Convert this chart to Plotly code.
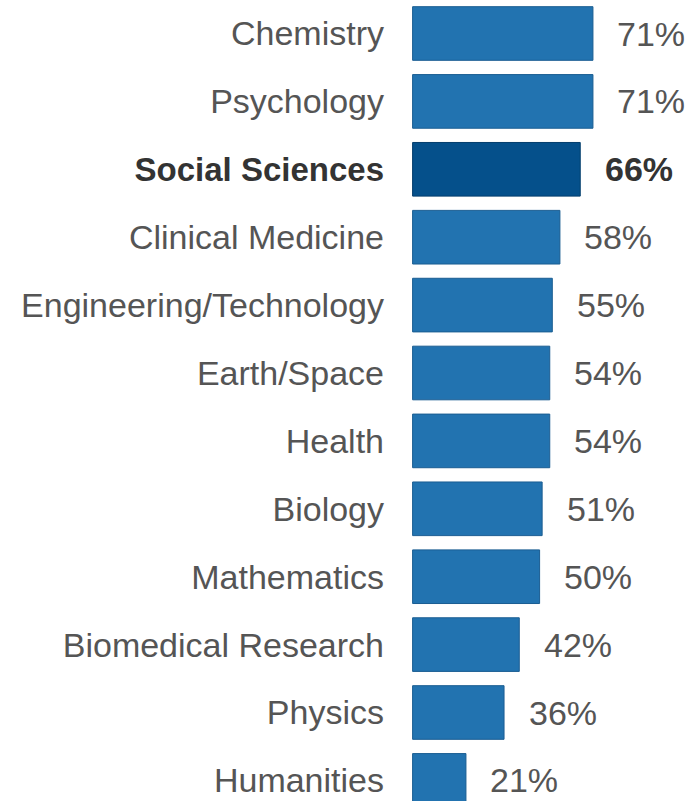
import plotly.graph_objects as go

categories = ["Chemistry", "Psychology", "Social Sciences", "Clinical Medicine",
              "Engineering/Technology", "Earth/Space", "Health", "Biology",
              "Mathematics", "Biomedical Research", "Physics", "Humanities"]
values = [71, 71, 66, 58, 55, 54, 54, 51, 50, 42, 36, 21]
highlight = "Social Sciences"

NORMAL_FILL = "#2273b0"
NORMAL_LINE = "#1a5d92"
HI_FILL = "#05508b"
HI_LINE = "#033d6c"
TEXT_GRAY = "#555555"
TEXT_DARK = "#333333"
FONT = "Liberation Sans, Arial, sans-serif"
FSIZE = 34

fills = [HI_FILL if c == highlight else NORMAL_FILL for c in categories]
lines = [HI_LINE if c == highlight else NORMAL_LINE for c in categories]
ticktext = [f"<b><span style='color:{TEXT_DARK};font-size:33px'>{c}</span></b>" if c == highlight else c
            for c in categories]

fig = go.Figure()
fig.add_trace(go.Bar(
    x=values, y=categories, orientation="h",
    marker=dict(color=fills, line=dict(color=lines, width=1)),
    hoverinfo="skip", showlegend=False,
))

for c, v in zip(categories, values):
    label = f"<b>{v}%</b>" if c == highlight else f"{v}%"
    fig.add_annotation(
        x=v, y=c, text=label, showarrow=False, xanchor="left", yanchor="middle",
        xshift=22.5, font=dict(family=FONT, size=FSIZE,
                               color=TEXT_DARK if c == highlight else TEXT_GRAY),
    )

left_px = 412
zero_px = 412.6
ppu = 2.54
width, height = 691, 801
pitch = 67.9
first_center = 33.5

fig.update_layout(
    width=width, height=height,
    margin=dict(l=left_px, r=0, t=0, b=0),
    paper_bgcolor="white", plot_bgcolor="white",
    bargap=0.21,
    font=dict(family=FONT, size=FSIZE, color=TEXT_GRAY),
    xaxis=dict(range=[(left_px - zero_px) / ppu, (width - zero_px) / ppu],
               visible=False, fixedrange=True),
    yaxis=dict(type="category", categoryorder="array", categoryarray=categories,
               tickvals=categories, ticktext=ticktext,
               range=[-first_center / pitch + height / pitch, -first_center / pitch],
               showgrid=False, zeroline=False, showline=False, ticks="",
               ticklabelstandoff=27,
               tickfont=dict(family=FONT, size=FSIZE, color=TEXT_GRAY)),
)

fig.write_html("out.html")
